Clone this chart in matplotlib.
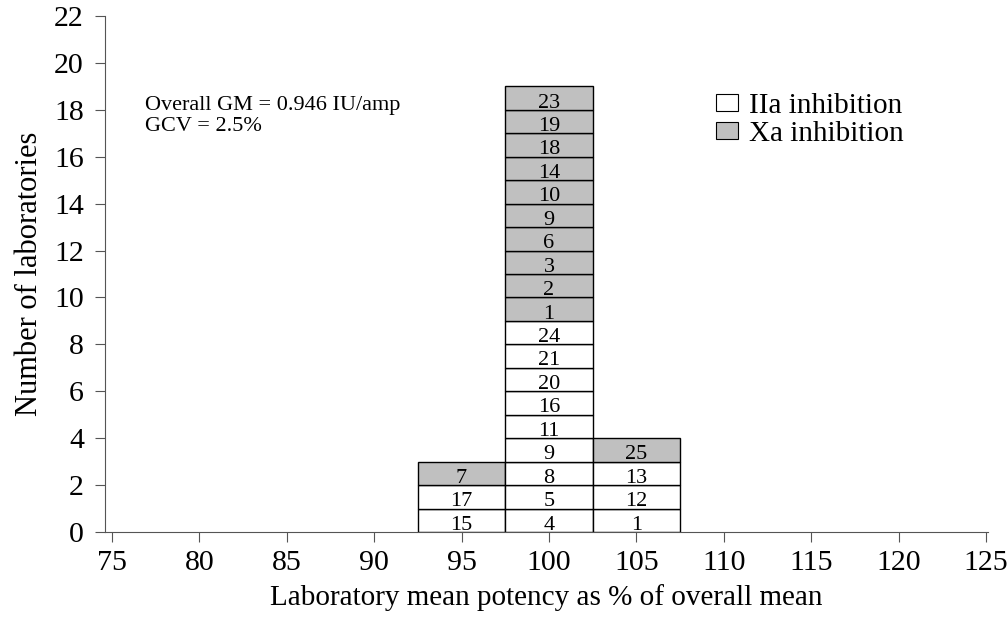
import matplotlib
matplotlib.use("Agg")
import matplotlib.pyplot as plt
from matplotlib.patches import Patch

plt.rcParams['font.family'] = ['Liberation Serif', 'DejaVu Serif']

# Data
bin_centers = [95, 100, 105]
iia_labs = [[15, 17], [4, 5, 8, 9, 11, 16, 20, 21, 24], [1, 12, 13]]
xa_labs = [[7], [1, 2, 3, 6, 9, 10, 14, 18, 19, 23], [25]]
x_ticks = [75, 80, 85, 90, 95, 100, 105, 110, 115, 120, 125]
y_ticks = list(range(0, 23, 2))

bin_width = 5
grey = '#c0c0c0'

fig = plt.figure(figsize=(10.08, 6.2), dpi=100)
ax = fig.add_axes([0.104, 0.142, 0.876, 0.832])

for c, iia, xa in zip(bin_centers, iia_labs, xa_labs):
    level = 0
    for lab in iia:
        ax.bar(c, 1, width=bin_width, bottom=level, color='white',
               edgecolor='black', linewidth=1.0)
        ax.text(c, level + 0.1, str(lab), ha='center', va='baseline', fontsize=16)
        level += 1
    for lab in xa:
        ax.bar(c, 1, width=bin_width, bottom=level, color=grey,
               edgecolor='black', linewidth=1.0)
        ax.text(c, level + 0.1, str(lab), ha='center', va='baseline', fontsize=16)
        level += 1

ax.set_xlim(74.6, 125.1)
ax.set_ylim(0, 22)
ax.set_xticks(x_ticks)
ax.set_yticks(y_ticks)
ax.tick_params(labelsize=21.5, length=7, width=0.8, color='#555555')
ax.tick_params(axis='y', pad=8)
ax.tick_params(axis='x', pad=6)
for s in ['top', 'right']:
    ax.spines[s].set_visible(False)
for s in ['left', 'bottom']:
    ax.spines[s].set_color('#555555')
    ax.spines[s].set_linewidth(0.8)

ax.set_xlabel('Laboratory mean potency as % of overall mean', fontsize=21, labelpad=6)
ax.set_ylabel('Number of laboratories', fontsize=22, labelpad=7)

ax.text(76.9, 17.75, 'Overall GM = 0.946 IU/amp\nGCV = 2.5%', fontsize=16,
        va='center', ha='left', linespacing=1.15)

handles = [Patch(facecolor='white', edgecolor='black', linewidth=0.8, label='IIa inhibition'),
           Patch(facecolor=grey, edgecolor='black', linewidth=0.8, label='Xa inhibition')]
ax.legend(handles=handles, loc='upper left', bbox_to_anchor=(0.6755, 0.88), frameon=False,
          fontsize=21, handlelength=0.75, handleheight=0.5, handletextpad=0.4,
          labelspacing=0.08, borderpad=0)

fig.savefig('out.png', dpi=100)
